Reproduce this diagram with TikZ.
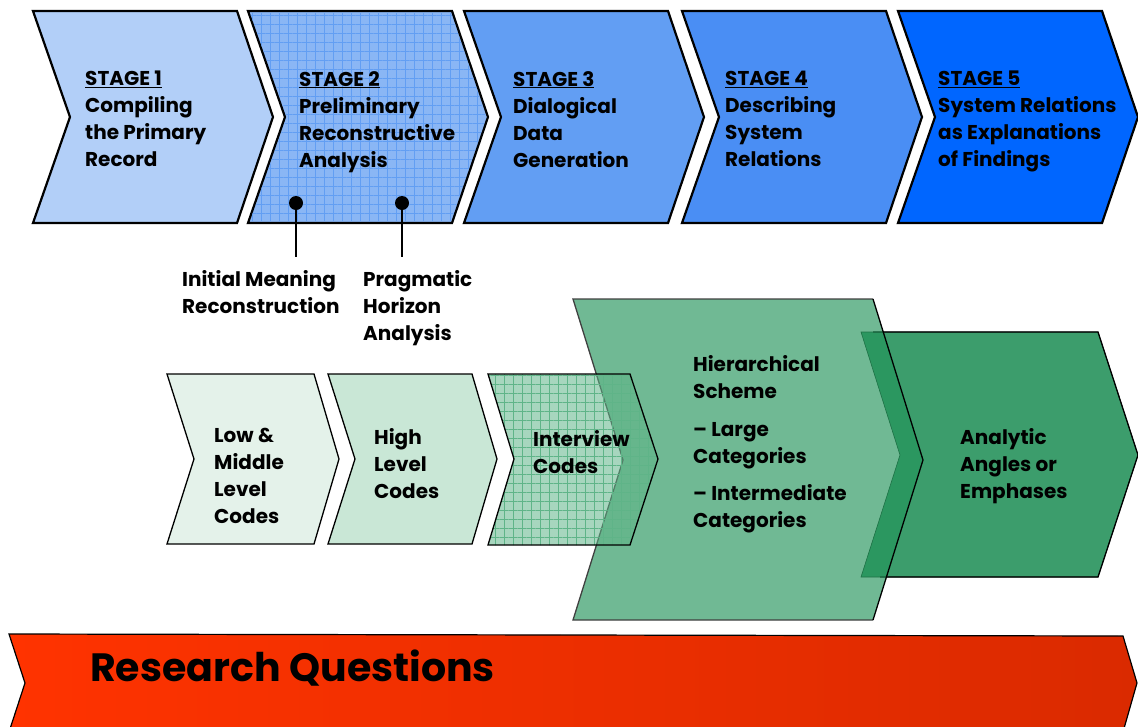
\documentclass[tikz,border=0pt]{standalone}
\usepackage{fontspec}
\setmainfont{Poppins}
\usetikzlibrary{patterns.meta}

\definecolor{stageone}{HTML}{B2CFF8}
\definecolor{stagetwo}{HTML}{8AB6F5}
\definecolor{stagethree}{HTML}{629EF3}
\definecolor{stagefour}{HTML}{4A8EF4}
\definecolor{stagefive}{HTML}{0066FF}
\definecolor{codelow}{HTML}{E4F2EA}
\definecolor{codehigh}{HTML}{C9E7D6}
\definecolor{codeint}{HTML}{5FB488}
\definecolor{scheme}{HTML}{23945A}
\definecolor{angles}{HTML}{3C9D6C}
\definecolor{rqleft}{HTML}{FF3300}
\definecolor{rqright}{HTML}{DA2A00}

\tikzset{
  stage/.style={draw=black, line width=2.2pt},
  codes/.style={draw=black, line width=1.3pt},
  mesh/.style={postaction={pattern={Hatch[angle=0, distance=9pt, line width=0.5pt]},
    pattern color=#1}},
  txt/.style={anchor=north west, inner sep=0pt, align=left,
    font=\fontsize{20}{27}\selectfont\bfseries},
  dot/.style={circle, fill=black, inner sep=0pt, minimum size=14pt},
}

\begin{document}
\begin{tikzpicture}[x=1pt, y=-1pt]
    \useasboundingbox (0,0) rectangle (1138,726);
    \clip (0,0) rectangle (1138,726);

    % stages
    \foreach \l/\c in {33/stageone, 248/stagetwo, 464/stagethree, 682/stagefour, 898/stagefive}
        \draw[stage, fill=\c] (\l,11) -- (\l+204,11) -- (\l+240,117) -- (\l+204,223)
            -- (\l,223) -- (\l+37,117) -- cycle;
    \path[mesh=stagethree] (250,13) -- (451,13) -- (486,117) -- (451,221)
        -- (250,221) -- (287,117) -- cycle;

    \node[txt] (s1) at (85,71) {\underline{STAGE 1}\\Compiling\\the Primary\\Record};
    \node[txt] (s2) at (299,71) {\underline{STAGE 2}\\Preliminary\\Reconstructive\\Analysis};
    \node[txt] (s3) at (513,71) {\underline{STAGE 3}\\Dialogical\\Data\\Generation};
    \node[txt] (s4) at (725,71) {\underline{STAGE 4}\\Describing\\System\\Relations};
    \node[txt] (s5) at (938,71) {\underline{STAGE 5}\\System Relations\\as Explanations\\of Findings};

    % stage 2 sub-steps
    \node[dot] (d1) at (296,203) {};
    \node[dot] (d2) at (402,203) {};
    \node[txt] (meaning) at (182,270) {Initial Meaning\\Reconstruction};
    \node[txt] (horizon) at (363,270) {Pragmatic\\Horizon\\Analysis};
    \draw[line width=2pt] (d1.center) -- (d1 |- 0,257);
    \draw[line width=2pt] (d2.center) -- (d2 |- 0,257);

    % codes
    \draw[codes, fill=codelow] (167,374) -- (314,374) -- (339,459) -- (314,544)
        -- (167,544) -- (194,459) -- cycle;
    \draw[codes, fill=codehigh] (328,374) -- (472,374) -- (497,459) -- (472,544)
        -- (328,544) -- (355,459) -- cycle;

    % categories
    \draw[line width=0.6pt, draw=black!70!angles, fill=angles] (861,332) -- (1098,332) -- (1138,455)
        -- (1098,577) -- (861,577) -- (900,455) -- cycle;
    \draw[line width=1.3pt] (873,332) -- (1098,332) -- (1138,455) -- (1098,577) -- (880,577);
    \fill[scheme, fill opacity=0.65] (573,299) -- (873,299) -- (923,460)
        -- (873,620) -- (573,620) -- (623,460) -- cycle;
    \draw[line width=1.3pt, black!75] (873,620) -- (573,620) -- (623,460) -- (573,299) -- (873,299);
    \draw[line width=1.3pt] (873,299) -- (923,460) -- (873,620);
    \fill[codeint, fill opacity=0.55, mesh=codeint] (488,374) -- (630,374) -- (658,459)
        -- (630,545) -- (488,545) -- (514,459) -- cycle;
    \draw[codes] (488,374) -- (630,374) -- (658,459) -- (630,545) -- (488,545) -- (514,459) -- cycle;

    \node[txt] (low) at (214,428) {Low \&\\Middle\\Level\\Codes};
    \node[txt] (high) at (374,428) {High\\Level\\Codes};
    \node[txt] (interview) at (533,430) {Interview\\Codes};
    \node[txt] (hier) at (693,355) {Hierarchical\\Scheme\\[11pt]– Large\\Categories\\[10pt]– Intermediate\\Categories};
    \node[txt] (analytic) at (960,428) {Analytic\\Angles or\\Emphases};

    % research questions
    \draw[line width=1.2pt, left color=rqleft, right color=rqright] (9,634) -- (1123,636)
        -- (1137,683) -- (1123,732) -- (9,732) -- (25,683) -- cycle;
    \node[anchor=west, inner sep=0pt, font=\fontsize{39.5}{48}\selectfont\bfseries] (rq) at (90,668) {Research Questions};
\end{tikzpicture}
\end{document}
